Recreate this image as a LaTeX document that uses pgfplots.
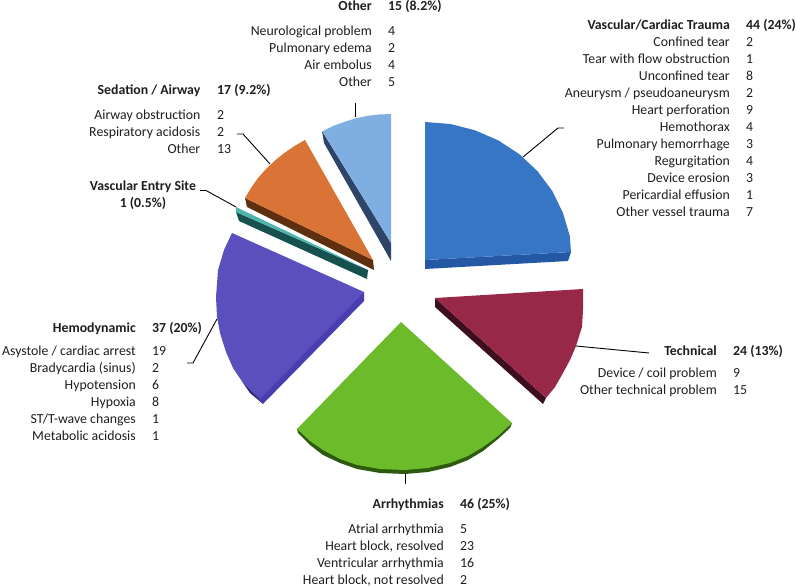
\documentclass[border=0pt]{standalone}
\usepackage{fontspec}
\setmainfont{Carlito}
\usepackage{pgfplots}
\pgfplotsset{compat=1.18}

\definecolor{vcTop}{HTML}{3676C5}
\definecolor{vcSide}{HTML}{2458A4}
\definecolor{otTop}{HTML}{7FAEE3}
\definecolor{otSide}{HTML}{2E4468}
\definecolor{seTop}{HTML}{DA7336}
\definecolor{seSide}{HTML}{5F300F}
\definecolor{veTop}{HTML}{4DB6AC}
\definecolor{veSide}{HTML}{16504F}
\definecolor{heTop}{HTML}{5A4FBD}
\definecolor{heSide}{HTML}{4A3DB0}
\definecolor{heEdge}{HTML}{2B2470}
\definecolor{arTop}{HTML}{6BBB2B}
\definecolor{arSide}{HTML}{2E5A10}
\definecolor{teTop}{HTML}{982848}
\definecolor{teSide}{HTML}{3D0E1E}
\definecolor{txt}{HTML}{1E1E1E}

% label column (right aligned) and value column (left aligned)
\newcommand{\row}[4]{%
  \node[anchor=base east,inner sep=0pt] at (axis cs:#1,#3+4.7) {#4};}
\newcommand{\val}[3]{%
  \node[anchor=base west,inner sep=0pt] at (axis cs:#1,#2+4.7) {#3};}

\begin{document}
\begin{tikzpicture}
\useasboundingbox (0,0) rectangle (796pt,588pt);
\begin{axis}[
  at={(0,0)},
  anchor=south west,
  scale only axis,
  width=796pt,
  height=588pt,
  xmin=0, xmax=796,
  ymin=0, ymax=588,
  y dir=reverse,
  hide axis,
  clip=false,
  nodes={font=\fontsize{13.8}{16}\selectfont,text=txt},
]
% Vascular/Cardiac Trauma
\addplot[fill=vcSide,draw=none] coordinates {(425,260)(571,252)(568,261)(425,269)};
\addplot[fill=vcTop,draw=none] coordinates {(425,260)(425,122)(450.5,124)(475,130.3)(498.5,140.5)(519.5,154.3)(537.6,171.3)(552.3,191)(563,213)(569.8,236)(571,252)};
% Other
\addplot[fill=otSide,draw=none] coordinates {(322,131)(391,243)(391,261)(324,143)};
\addplot[fill=otTop,draw=none] coordinates {(391,243)(391,114)(379,114.5)(367,116)(355.5,118.4)(344,122)(333,126)(322.5,131.3)};
% Sedation / Airway
\addplot[fill=seSide,draw=none] coordinates {(245,198)(373,260)(374,270)(247,207)};
\addplot[fill=seTop,draw=none] coordinates {(373,260)(305,140)(294.6,146)(284.3,153)(275,160.5)(266,169)(258,178)(251,188)(245,198)};
% Vascular Entry Site
\addplot[fill=veSide,draw=none] coordinates {(236,212)(368,270)(367,279)(239,221)};
\addplot[fill=veTop,draw=none] coordinates {(236,207)(241,209.5)(368,270)(236,212)};
% Hemodynamic
\addplot[fill=heEdge,draw=none] coordinates {(243,383)(250,393)(263,404)(261,398)};
\addplot[fill=heSide,draw=none] coordinates {(364,292)(364,301)(263,404)(250,390)};
\addplot[fill=heTop,draw=none] coordinates {(364,292)(232,233)(224,250)(218,270)(216,297)(217,317)(220,333)(226,352)(233,368)(243,383)(250,390)(261,398)};
% Arrhythmias
\addplot[fill=arSide,draw=none] coordinates {(297,429)(298,433)(310,445)(323,455)(340,463)(357,469)(380,473)(405,474)(428,472)(450,467)(468,460)(483,451)(498,439)(510,428)(512,423)};
\addplot[fill=arTop,draw=none] coordinates {(401,322)(297,429)(310,441)(323,450)(340,459)(357,465)(380,469)(405,470)(428,468)(450,463)(468,456)(483,447)(498,436)(512,423)};
% Technical
\addplot[fill=teSide,draw=none] coordinates {(435,298)(435,307)(543,404)(546,398)};
\addplot[fill=teTop,draw=none] coordinates {(435,298)(583,289)(583,310)(582,327)(576,346)(570,360)(563,373)(555,387)(546,398)};
% leader lines
\addplot[black,line width=0.9pt] coordinates {(523,157)(558,128)(564,128)};
\addplot[black,line width=0.9pt] coordinates {(355,103)(355,117)};
\addplot[black,line width=0.9pt] coordinates {(237,134)(243,134)(270,164)};
\addplot[black,line width=0.9pt] coordinates {(200,190.5)(206,190.5)(236,207)};
\addplot[black,line width=0.9pt] coordinates {(217,319)(193,363)(187,363)};
\addplot[black,line width=0.9pt] coordinates {(405,474)(405,484)};
\addplot[black,line width=0.9pt] coordinates {(576,346)(649,353)};

% Vascular/Cardiac Trauma text
\row{730}{}{25}{\bfseries Vascular/Cardiac Trauma}\val{746}{25}{\bfseries 44 (24\%)}
\row{730}{}{42}{Confined tear}\val{746}{42}{2}
\row{730}{}{59}{Tear with flow obstruction}\val{746}{59}{1}
\row{730}{}{76}{Unconfined tear}\val{746}{76}{8}
\row{730}{}{93}{Aneurysm / pseudoaneurysm}\val{746}{93}{2}
\row{730}{}{110}{Heart perforation}\val{746}{110}{9}
\row{730}{}{127}{Hemothorax}\val{746}{127}{4}
\row{730}{}{144}{Pulmonary hemorrhage}\val{746}{144}{3}
\row{730}{}{161}{Regurgitation}\val{746}{161}{4}
\row{730}{}{178}{Device erosion}\val{746}{178}{3}
\row{730}{}{195}{Pericardial effusion}\val{746}{195}{1}
\row{730}{}{212}{Other vessel trauma}\val{746}{212}{7}
% Other text
\row{372}{}{6}{\bfseries Other}\val{388}{6}{\bfseries 15 (8.2\%)}
\row{372}{}{31}{Neurological problem}\val{388}{31}{4}
\row{372}{}{48}{Pulmonary edema}\val{388}{48}{2}
\row{372}{}{65}{Air embolus}\val{388}{65}{4}
\row{372}{}{82}{Other}\val{388}{82}{5}
% Sedation text
\row{200.5}{}{90}{\bfseries Sedation / Airway}\val{217}{90}{\bfseries 17 (9.2\%)}
\row{200.5}{}{115}{Airway obstruction}\val{217}{115}{2}
\row{200.5}{}{132}{Respiratory acidosis}\val{217}{132}{2}
\row{200.5}{}{149}{Other}\val{217}{149}{13}
% Vascular Entry Site text
\node[anchor=base,inner sep=0pt,font=\fontsize{13.8}{16}\selectfont\bfseries] at (axis cs:143,190.7) {Vascular Entry Site};
\node[anchor=base,inner sep=0pt,font=\fontsize{13.8}{16}\selectfont\bfseries] at (axis cs:143,207.7) {1 (0.5\%)};
% Hemodynamic text
\row{136}{}{328}{\bfseries Hemodynamic}\val{152}{328}{\bfseries 37 (20\%)}
\row{136}{}{351}{Asystole / cardiac arrest}\val{152}{351}{19}
\row{136}{}{368}{Bradycardia (sinus)}\val{152}{368}{2}
\row{136}{}{385}{Hypotension}\val{152}{385}{6}
\row{136}{}{402}{Hypoxia}\val{152}{402}{8}
\row{136}{}{419}{ST/T-wave changes}\val{152}{419}{1}
\row{136}{}{436}{Metabolic acidosis}\val{152}{436}{1}
% Arrhythmias text
\row{444}{}{504}{\bfseries Arrhythmias}\val{460}{504}{\bfseries 46 (25\%)}
\row{444}{}{529}{Atrial arrhythmia}\val{460}{529}{5}
\row{444}{}{546}{Heart block, resolved}\val{460}{546}{23}
\row{444}{}{563}{Ventricular arrhythmia}\val{460}{563}{16}
\row{444}{}{580}{Heart block, not resolved}\val{460}{580}{2}
% Technical text
\row{717}{}{351}{\bfseries Technical}\val{733}{351}{\bfseries 24 (13\%)}
\row{717}{}{373}{Device / coil problem}\val{733}{373}{9}
\row{717}{}{390}{Other technical problem}\val{733}{390}{15}
\end{axis}
\end{tikzpicture}
\end{document}
